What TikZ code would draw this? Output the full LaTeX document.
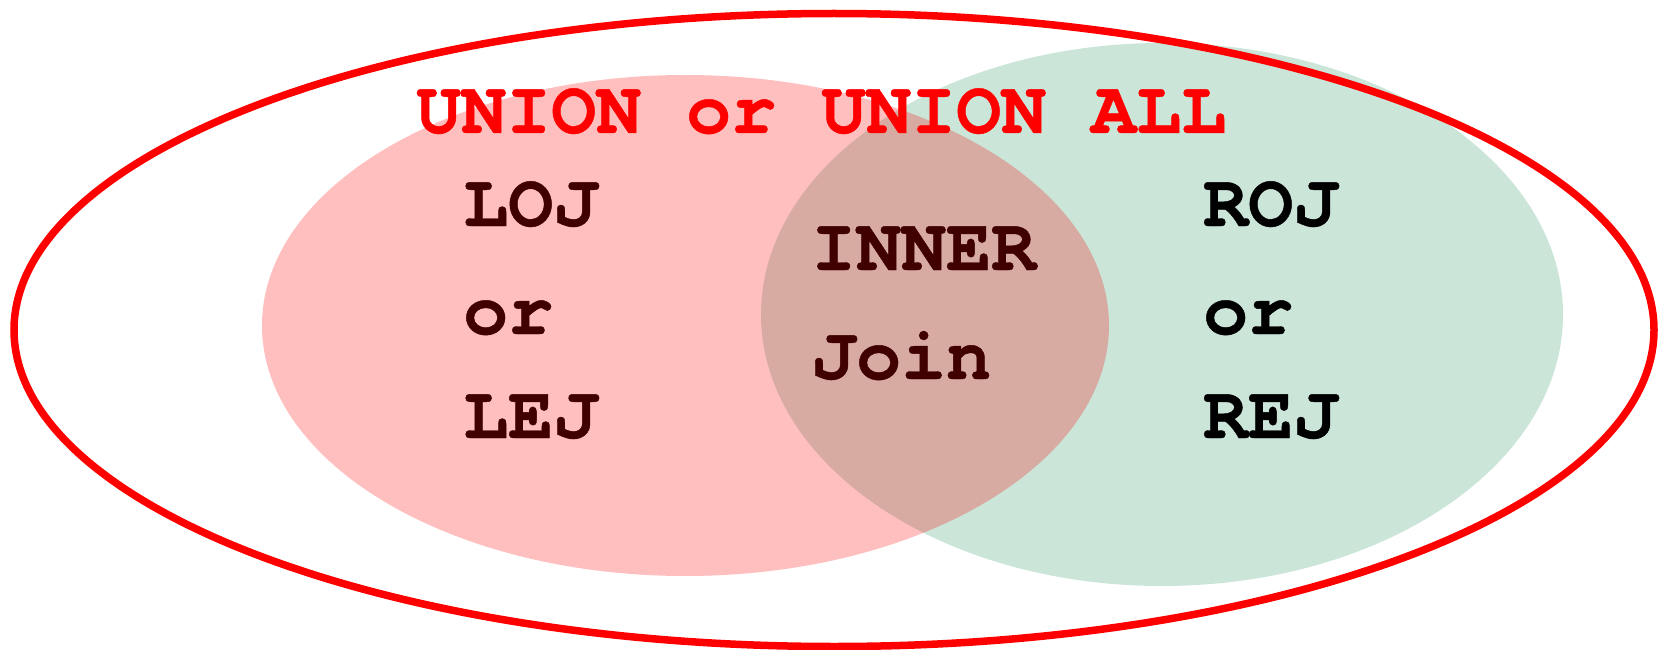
\documentclass[tikz,border=0pt]{standalone}
\usepackage{fontspec}
\newfontfamily\cur{texgyrecursor-bold.otf}[FakeBold=0.6]
\definecolor{vgreen}{RGB}{203,229,217}
\definecolor{vred}{RGB}{255,0,0}
\tikzset{
  lbl/.style={anchor=base west, inner sep=0pt, font=\cur\fontsize{75}{80}\selectfont},
}
\begin{document}
\begin{tikzpicture}[x=1pt,y=-1pt]
\useasboundingbox (0,0) rectangle (1663,650);
% right set
\fill[vgreen] (1162,314.5) ellipse [x radius=401, y radius=271.5];
% outer union
\draw[vred, line width=7.5pt] (834,330) ellipse [x radius=820, y radius=316.5];
% texts
\node[lbl, text=vred] (union) at (416,133) {UNION or UNION ALL};
\node[lbl, text=black] (loj) at (463,226) {LOJ};
\node[lbl, text=black] (lor) at (463,334) {or};
\node[lbl, text=black] (lej) at (463,438) {LEJ};
\node[lbl, text=black] (inner) at (811,270) {INNER};
\node[lbl, text=black] (join) at (811,379) {Join};
\node[lbl, text=black] (roj) at (1203,226) {ROJ};
\node[lbl, text=black] (ror) at (1203,334) {or};
\node[lbl, text=black] (rej) at (1203,438) {REJ};
% left set (translucent overlay)
\fill[vred, fill opacity=0.25] (685.5,325.5) ellipse [x radius=423.5, y radius=250.5];
\end{tikzpicture}
\end{document}
